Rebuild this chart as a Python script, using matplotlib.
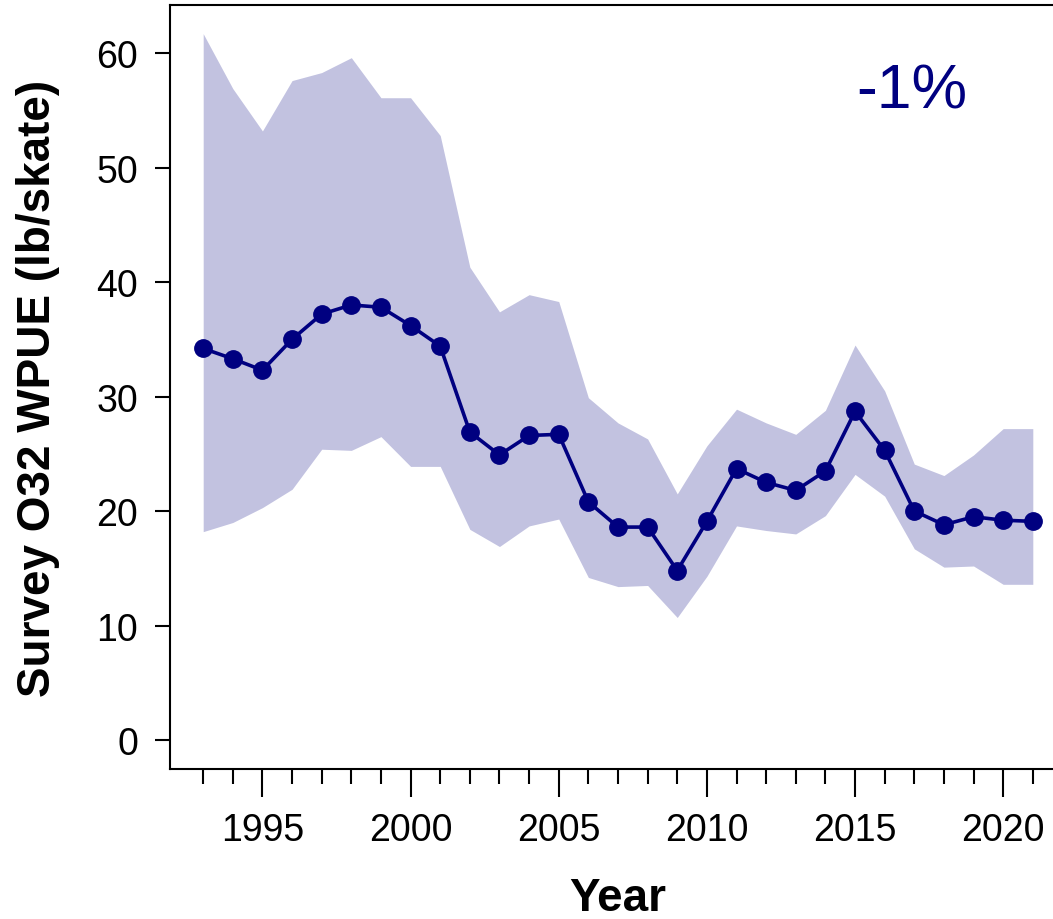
import matplotlib
matplotlib.use("Agg")
import matplotlib.pyplot as plt
import numpy as np

years = list(range(1993, 2022))
wpue = [34.2, 33.3, 32.3, 35.0, 37.2, 38.0, 37.8, 36.2, 34.4, 26.9,
        24.9, 26.6, 26.7, 20.8, 18.6, 18.6, 14.8, 19.1, 23.7, 22.5,
        21.8, 23.5, 28.7, 25.3, 20.0, 18.8, 19.5, 19.2, 19.1]
upper = [61.7, 56.9, 53.2, 57.6, 58.3, 59.6, 56.1, 56.1, 52.8, 41.3,
         37.4, 38.9, 38.3, 29.9, 27.7, 26.3, 21.5, 25.7, 28.9, 27.7,
         26.7, 28.8, 34.5, 30.5, 24.1, 23.1, 24.9, 27.2, 27.2]
lower = [18.2, 19.0, 20.3, 21.9, 25.4, 25.3, 26.5, 23.9, 23.9, 18.4,
         16.9, 18.7, 19.3, 14.2, 13.4, 13.5, 10.7, 14.3, 18.7, 18.3,
         18.0, 19.6, 23.2, 21.3, 16.7, 15.1, 15.2, 13.6, 13.6]
ytick_vals = [0, 10, 20, 30, 40, 50, 60]
xtick_major = [1995, 2000, 2005, 2010, 2015, 2020]
trend_label = "-1%"

plt.rcParams['font.family'] = ['Liberation Sans', 'DejaVu Sans']

fig = plt.figure(figsize=(10.53, 9.2), dpi=100)
# right edge of the box falls outside the picture, as in the reference
ax = fig.add_axes([170 / 1053, 1 - 770 / 920, (1066 - 170) / 1053, (770 - 6) / 920])

ax.fill_between(years, lower, upper, color='navy', alpha=0.24, linewidth=0)
ax.plot(years, wpue, color='navy', linewidth=2.6, marker='o', markersize=12.5)

ax.set_xlim(1991.88, 2022.12)
ax.set_ylim(-2.53, 64.2)

ax.set_yticks(ytick_vals)
ax.set_xticks(xtick_major)
ax.set_xticks(years, minor=True)
ax.tick_params(axis='y', direction='out', length=11, width=1.5, pad=12, labelsize=27)
ax.tick_params(axis='x', which='major', direction='out', length=20, width=1.5, pad=11, labelsize=27)
ax.tick_params(axis='x', which='minor', direction='out', length=11, width=1.5)

for side in ['left', 'bottom', 'top', 'right']:
    ax.spines[side].set_linewidth(1.5)

ax.set_ylabel('Survey O32 WPUE (lb/skate)', fontsize=33, fontweight='bold', labelpad=26)
ax.set_xlabel('Year', fontsize=33, fontweight='bold', labelpad=20)

ax.text(0.828, 0.887, trend_label, transform=ax.transAxes, color='navy',
        fontsize=45, ha='center', va='center')

fig.savefig('out.png', dpi=100)
